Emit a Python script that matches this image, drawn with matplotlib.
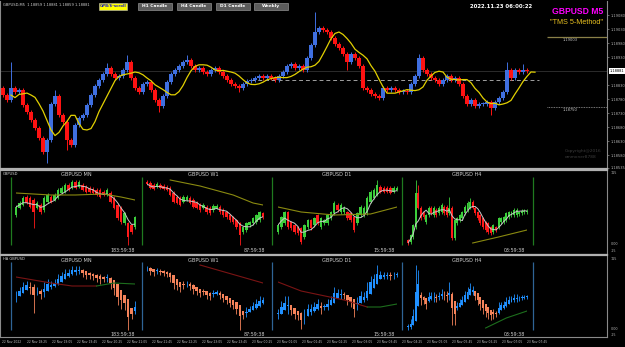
import numpy as np
import pandas as pd
import matplotlib
matplotlib.use('Agg')
import matplotlib.pyplot as plt
from matplotlib.patches import Rectangle
from matplotlib.transforms import blended_transform_factory

W, H = 625, 347
BASE = 1.18

# ---- main GBPUSD M5 chart, closes in points above 1.18000
m5_first_open = 820
m5_close = [795, 777, 820, 806, 813, 760, 735, 706, 677, 642,
            592, 635, 763, 792, 724, 699, 635, 617, 688, 713,
            724, 760, 795, 827, 849, 870, 892, 870, 856, 863,
            885, 913, 856, 820, 806, 835, 842, 813, 777, 756,
            792, 842, 870, 885, 899, 913, 920, 899, 885, 892,
            877, 870, 885, 892, 877, 863, 849, 835, 827, 820,
            835, 845, 849, 856, 863, 856, 863, 856, 849, 863,
            877, 899, 906, 892, 899, 885, 927, 974, 1020, 1035,
            1027, 1020, 999, 977, 963, 942, 913, 942, 927, 899,
            820, 813, 799, 792, 785, 820, 813, 820, 813, 806,
            810, 806, 835, 863, 927, 885, 870, 856, 849, 835,
            849, 863, 849, 856, 835, 792, 763, 777, 756, 763,
            763, 770, 749, 770, 785, 806, 885, 856, 885, 877,
            885, 881]
m5_highs = {2: 913, 13: 813, 26: 910, 31: 938, 46: 938, 78: 1092,
            104: 942, 126: 913, 130: 906}
m5_lows = {11: 553, 16: 599, 39: 735, 59: 806, 86: 885, 122: 724}

cur_price = 1.18881
day_open = 1.18849
upper_level = 1.19003
lower_level = 1.18752
price_ticks = [1.18535, 1.18580, 1.18630, 1.18680, 1.18730, 1.18780,
               1.18830, 1.18930, 1.18980, 1.19030, 1.19080]

time_labels = ['22 Nov 2022', '22 Nov 18:25', '22 Nov 19:05', '22 Nov 19:45',
               '22 Nov 20:25', '22 Nov 21:05', '22 Nov 21:45', '22 Nov 22:25',
               '22 Nov 23:05', '22 Nov 23:45', '23 Nov 00:25', '23 Nov 01:05',
               '23 Nov 01:45', '23 Nov 02:25', '23 Nov 03:05', '23 Nov 03:45',
               '23 Nov 04:25', '23 Nov 05:05', '23 Nov 05:45', '23 Nov 06:25',
               '23 Nov 07:05', '23 Nov 07:45']

# ---- mini charts (levels in chart units)
mn_open = [35, 42, 45, 53, 52, 50, 42, 45, 40, 48, 53, 50, 52, 57, 58, 65, 62, 68,
           63, 65, 63, 62, 61, 60, 60, 58, 55, 57, 52, 45, 42, 27, 27, 25, 23]
mn_close = [43, 47, 52, 47, 43, 38, 47, 38, 52, 55, 48, 55, 60, 62, 65, 60, 68, 62,
            68, 60, 58, 58, 57, 55, 53, 55, 60, 48, 42, 32, 28, 37, 13, 18, 33]
mn_highs = {}
mn_lows = {5: 22, 32: 5}
mn_slow_idx = [0, 10, 17, 25, 30, 34]
mn_slow = [57, 55, 55, 56, 53, 50]
mn_ha_line = [([0, 10, 16, 23], [58, 52, 49, 49]), ([23, 28, 34], [49, 52, 51])]

w1_open = [68, 67, 65, 63, 65, 64, 63, 62, 57, 53, 52, 48, 50, 52, 50, 47, 45, 42,
           43, 42, 40, 42, 43, 40, 38, 35, 33, 30, 27, 18, 20, 25, 27, 28, 30, 37]
w1_close = [66, 62, 61, 66, 62, 61, 60, 55, 48, 47, 45, 53, 53, 47, 43, 42, 40, 45,
            38, 37, 44, 44, 38, 35, 33, 30, 28, 23, 15, 23, 27, 28, 32, 35, 38, 33]
w1_highs = {}
w1_lows = {28: 5}
w1_slow_idx = [7, 16, 26, 32, 35]
w1_slow = [70, 64, 55, 47, 45]
w1_ha_line = [([16, 35], [70, 52]), ([], [])]

d1_open = [18, 23, 27, 38, 28, 25, 23, 22, 13, 23, 30, 25, 35, 23, 27, 27, 32, 37, 45,
           38, 38, 38, 37, 33, 27, 35, 35, 37, 48, 52, 55, 63, 62, 62, 62, 58, 60]
d1_close = [25, 33, 38, 23, 22, 18, 17, 8, 25, 30, 22, 32, 27, 32, 30, 35, 38, 47, 40,
            45, 42, 32, 30, 20, 37, 43, 42, 52, 58, 60, 65, 58, 58, 58, 57, 62, 62]
d1_highs = {30: 70}
d1_lows = {}
d1_slow_idx = [0, 7, 17, 28, 36]
d1_slow = [43, 38, 35, 36, 43]
d1_ha_line = [([0, 7, 20, 27], [53, 44, 35, 28]), ([27, 31, 36], [28, 28, 31])]

h4_open = [10, 8, 13, 23, 57, 42, 38, 28, 35, 42, 35, 40, 37, 38, 43, 43, 37, 42, 12, 27,
           30, 32, 37, 40, 42, 48, 42, 38, 35, 32, 28, 27, 23, 18, 23, 23, 28, 28, 30, 33,
           35, 35, 35, 36, 37, 38, 38]
h4_close = [7, 15, 25, 57, 42, 32, 33, 35, 42, 37, 42, 35, 42, 45, 37, 35, 42, 12, 30, 32,
            35, 38, 43, 47, 48, 42, 37, 32, 27, 23, 20, 18, 17, 25, 20, 32, 32, 33, 37, 38,
            38, 40, 40, 38, 39, 39, 39]
h4_highs = {3: 70, 4: 65, 16: 53, 24: 52}
h4_lows = {}
h4_slow_idx = [25, 35, 46]
h4_slow = [7, 13, 20]
h4_ha_line = [([], []), ([30, 38, 46], [7, 17, 24])]

mini_names = ['GBPUSD MN', 'GBPUSD W1', 'GBPUSD D1', 'GBPUSD H4']
countdowns = ['183:59:38', '87:59:38', '15:59:38', '03:59:38']

fig = plt.figure(figsize=(6.25, 3.47), dpi=100, facecolor='black')


def rect(x0, y0, x1, y1):
    return [x0 / W, 1 - y1 / H, (x1 - x0) / W, (y1 - y0) / H]


def ftxt(x, y, s, **kw):
    kw.setdefault('color', '#c8c8c8')
    kw.setdefault('va', 'center')
    return fig.text(x / W, 1 - y / H, s, **kw)


def ohlc(o, c, wick, highs, lows):
    o = np.asarray(o, float)
    c = np.asarray(c, float)
    h = np.maximum(o, c) + wick
    l = np.minimum(o, c) - wick
    for i, v in highs.items():
        h[i] = v
    for i, v in lows.items():
        l[i] = v
    return o, h, l, c


def candles(ax, o, h, l, c, up, dn, width, lw=0.6, mind=0.5):
    x = np.arange(len(o))
    col = np.where(c >= o, up, dn)
    ax.vlines(x, l, h, colors=col, lw=lw, clip_on=False)
    ax.bar(x, np.maximum(np.abs(c - o), mind), width, bottom=np.minimum(o, c),
           color=col, linewidth=0, clip_on=False)


def heikin_ashi(o, h, l, c):
    ha_c = (o + h + l + c) / 4
    ha_o = np.empty_like(ha_c)
    ha_o[0] = (o[0] + c[0]) / 2
    for i in range(1, len(o)):
        ha_o[i] = (ha_o[i - 1] + ha_c[i - 1]) / 2
    ha_h = np.maximum.reduce([h, ha_o, ha_c])
    ha_l = np.minimum.reduce([l, ha_o, ha_c])
    return ha_o, ha_h, ha_l, ha_c


# ---------------- main chart
ax = fig.add_axes(rect(0, 1, 607, 169))
ax.set_facecolor('black')
closes = np.array(m5_close, float)
opens = np.concatenate([[m5_first_open], closes[:-1]])
o, h, l, c = ohlc(opens, closes, 7, m5_highs, m5_lows)
o, h, l, c = BASE + o / 1e5, BASE + h / 1e5, BASE + l / 1e5, BASE + c / 1e5
ax.axhline(cur_price, color='#2c2c2c', lw=0.7, zorder=0)
ax.hlines(day_open, 62, 134, colors='#a0a0a0', linestyles=(0, (4, 3)), lw=0.7, zorder=0)
candles(ax, o, h, l, c, '#3f6fe0', '#ff1212', 0.82, lw=0.7, mind=0.00002)
ma = pd.Series(c).rolling(5, min_periods=1).mean()
ax.plot(np.arange(len(c)) + 2, ma, color='#e2d000', lw=0.9)

ax.hlines(upper_level, 136, 151, colors='#8a8048', lw=0.9)
ax.hlines(lower_level, 136, 151, colors='#a0a0a0', linestyles=(0, (1, 1)), lw=0.6)
ax.text(140, upper_level - 0.00004, f'{upper_level:.5f}', fontsize=2.6, color='#c8c8c8', va='top')
ax.text(140, lower_level - 0.00004, '1.18750', fontsize=2.6, color='#c8c8c8', va='top')

ax.set_xlim(-0.75, 151)
ax.set_ylim(1.18531, 1.19131)
ax.yaxis.tick_right()
ax.set_yticks(price_ticks)
ax.set_yticklabels([f'{t:.5f}' for t in price_ticks])
ax.tick_params(axis='y', colors='#b0b0b0', labelsize=2.6, length=1.5, width=0.4, pad=1)
ax.set_xticks([])
for s in ['left', 'right']:
    ax.spines[s].set_color('#8a8a8a')
    ax.spines[s].set_linewidth(0.8)
ax.spines['top'].set_visible(False)
ax.spines['bottom'].set_color('#b0b0b0')
ax.spines['bottom'].set_linewidth(1.6)
tr = blended_transform_factory(ax.transAxes, ax.transData)
ax.text(1.004, cur_price, f'{cur_price:.5f}', transform=tr, fontsize=2.6, color='black',
        va='center', bbox=dict(fc='white', ec='none', pad=0.4))

# texts on the main chart
ftxt(3, 5, 'GBPUSD,M5  1.18859 1.18881 1.18859 1.18881', fontsize=2.6, color='#d0d0d0')
ftxt(501, 6, '2022.11.23 06:00:22', fontsize=3.9, color='white', weight='bold', ha='center')
ftxt(603, 11, 'GBPUSD M5', fontsize=6.2, color='#ff00ff', weight='bold', ha='right',
     family='Liberation Sans')
ftxt(603, 22, '"TMS 5-Method"', fontsize=5.2, color='#e8c020', ha='right',
     family='Liberation Sans')
ftxt(565, 151, 'Copyright@2016', fontsize=3.2, color='#3c3c3c')
ftxt(565, 157, 'ommoner8788', fontsize=3.2, color='#3c3c3c')

# buttons
fig.add_artist(Rectangle((99 / W, 1 - 9.5 / H), 28 / W, 6.5 / H, transform=fig.transFigure,
                         fc='#ffff00', ec='#c0c0c0', lw=0.4))
ftxt(113, 6.2, 'GPB/$-scroll', fontsize=2.8, color='#2020c0', weight='bold', ha='center')
for x0, x1, s in [(138, 172, 'H1 Candle'), (177, 211, 'H4 Candle'),
                  (216, 250, 'D1 Candle'), (254, 288, 'Weekly')]:
    fig.add_artist(Rectangle((x0 / W, 1 - 9.5 / H), (x1 - x0) / W, 6.5 / H,
                             transform=fig.transFigure, fc='#5c5c5c', ec='#a8a8a8', lw=0.4))
    ftxt((x0 + x1) / 2, 6.2, s, fontsize=3.2, color='white', weight='bold', ha='center')

# ---------------- sub windows
sep_x = [11, 142, 272, 402, 533]
mini_x = [(16, 135), (147, 263), (278, 397), (408, 527)]
title_x = [76, 203, 337, 467]
count_x = [135, 265, 395, 525]

minis = [(mn_open, mn_close, mn_highs, mn_lows, mn_slow_idx, mn_slow, mn_ha_line),
         (w1_open, w1_close, w1_highs, w1_lows, w1_slow_idx, w1_slow, w1_ha_line),
         (d1_open, d1_close, d1_highs, d1_lows, d1_slow_idx, d1_slow, d1_ha_line),
         (h4_open, h4_close, h4_highs, h4_lows, h4_slow_idx, h4_slow, h4_ha_line)]

panels = [(170, 254, 'GBPUSD', '#1f7a1f'), (255, 337, 'HA GBPUSD', '#2f6496')]
for k, (py0, py1, label, sep_col) in enumerate(panels):
    p = fig.add_axes(rect(0, py0, 607, py1))
    p.set_facecolor('black')
    p.set_xlim(0, 607)
    p.set_ylim(py1, py0)
    p.set_xticks([])
    p.set_yticks([])
    for s in p.spines.values():
        s.set_color('#8a8a8a')
        s.set_linewidth(0.8)
    p.spines['top'].set_color('#b0b0b0')
    p.spines['top'].set_linewidth(1.6)
    p.vlines(sep_x, py0 + 7, py0 + 75, colors=sep_col, lw=0.9)
    ftxt(3, py0 + 4, label, fontsize=2.6, color='#d8d8d8')
    ftxt(611, py0 + 3.5, '115', fontsize=2.4, color='#b0b0b0')
    ftxt(611, py0 + 74, '0.00', fontsize=2.4, color='#b0b0b0')
    ftxt(611, py0 + 80.5, '-15', fontsize=2.4, color='#b0b0b0')

    for j, (mo, mc, mh, ml, sidx, slow, haline) in enumerate(minis):
        x0, x1 = mini_x[j]
        m = fig.add_axes(rect(x0, py0, x1, py0 + 80))
        m.set_facecolor('none')
        m.axis('off')
        o, h, l, c = ohlc(mo, mc, 1.5, mh, ml)
        if k == 0:
            candles(m, o, h, l, c, '#3ccf3c', '#ff1a1a', 0.75)
            m.plot(np.arange(len(c)), pd.Series(c).rolling(5, min_periods=1).mean(),
                   color='#c8c8c8', lw=0.7)
            m.plot(sidx, slow, color='#8a8a10', lw=0.8)
        else:
            ho, hh, hl, hc = heikin_ashi(o, h, l, c)
            candles(m, ho, hh, hl, hc, '#2090ff', '#f5835a', 0.75)
            m.plot(haline[0][0], haline[0][1], color='#7a1414', lw=0.8)
            m.plot(haline[1][0], haline[1][1], color='#1d6e1d', lw=0.8)
        m.set_xlim(0, len(mo) - 1)
        m.set_ylim(0, 80)
        ftxt(title_x[j], py0 + 5, mini_names[j], fontsize=3.6, color='#d0d0d0', ha='center')
        ftxt(count_x[j], py0 + 80, countdowns[j], fontsize=3.4, color='#d0d0d0', ha='right')

# time axis
for n, s in enumerate(time_labels):
    ftxt(2 + 25 * n, 342, s, fontsize=2.2, color='#c0c0c0')

fig.savefig('out.png', dpi=100, facecolor='black')
